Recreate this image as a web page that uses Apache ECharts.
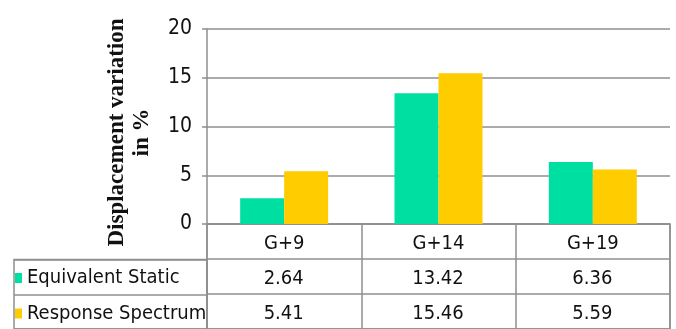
<!DOCTYPE html>
<html>
<head>
<meta charset="utf-8">
<script src="https://cdn.jsdelivr.net/npm/echarts@6/dist/echarts.min.js"></script>
<style>
  html, body { margin: 0; padding: 0; background: #fff; }
  #main { width: 676px; height: 329px; }
</style>
</head>
<body>
<div id="main"></div>
<script>
// 数据
var categories = ["G+9", "G+14", "G+19"];
var seriesNames = ["Equivalent Static", "Response Spectrum"];
var equivalentStatic = [2.64, 13.42, 6.36];
var responseSpectrum = [5.41, 15.46, 5.59];
var yMin = 0, yMax = 20, yStep = 5;
var tableRows = [equivalentStatic, responseSpectrum];

var lineColor = "#8f8f8f";
var textColor = "#111";
var tableFont = "'DejaVu Sans Condensed', sans-serif";

// 表格里的数值 -> 散点的标签 (y 是行中心)
var cellSeries = tableRows.map(function (row, r) {
  return {
    name: "cells" + r,
    type: "scatter",
    xAxisIndex: 1,
    yAxisIndex: 1,
    symbolSize: 1,
    itemStyle: { opacity: 0 },
    silent: true,
    label: {
      show: true,
      position: [0, 0],
      offset: [0, 3],
      align: "center",
      verticalAlign: "middle",
      opacity: 1,
      textBorderWidth: 0,
      formatter: function (p) { return p.value[2].toFixed(2); },
      fontFamily: tableFont,
      fontSize: 20,
      color: textColor
    },
    data: row.map(function (v, i) { return [categories[i], r + 1.5, v]; })
  };
});

var myChart = echarts.init(document.getElementById("main"));
var option = {
  animation: false,
  color: ["#00DFA2", "#FFCC00"],
  legend: {
    data: seriesNames,
    orient: "vertical",
    left: 15,
    top: 267,
    padding: 0,
    itemWidth: 7,
    itemHeight: 10,
    itemGap: 13.5,
    icon: "rect",
    textStyle: { fontFamily: tableFont, fontSize: 20, lineHeight: 22, color: textColor }
  },
  grid: [
    // 柱状图
    { left: 207, right: 6, top: 29, height: 195 },
    // 数据表
    { left: 207, right: 6, top: 224, height: 106.5, show: true, borderColor: lineColor, borderWidth: 1.5 },
    // 图例列
    { left: 14, width: 193, top: 259.5, height: 71, show: true, borderColor: lineColor, borderWidth: 1.5 }
  ],
  xAxis: [
    {
      type: "category",
      gridIndex: 0,
      data: categories,
      axisLine: { show: false },
      axisTick: { show: false },
      axisLabel: { margin: 10, fontFamily: tableFont, fontSize: 20, color: textColor }
    },
    {
      type: "category",
      gridIndex: 1,
      data: categories,
      axisLine: { show: false },
      axisTick: { show: false },
      axisLabel: { show: false },
      splitLine: { show: true, interval: 0, lineStyle: { color: lineColor, width: 1.5 } }
    },
    {
      type: "value",
      gridIndex: 2,
      show: false
    }
  ],
  yAxis: [
    {
      type: "value",
      gridIndex: 0,
      min: yMin,
      max: yMax,
      interval: yStep,
      name: "Displacement variation\nin %",
      nameLocation: "middle",
      nameRotate: 90,
      nameGap: 52,
      nameTextStyle: {
        fontFamily: "'Liberation Serif', 'DejaVu Serif', serif",
        fontWeight: "bold",
        fontSize: 23,
        lineHeight: 25,
        padding: [0, 12, 0, 0],
        color: textColor
      },
      axisLine: { show: true, lineStyle: { color: lineColor, width: 1.5 } },
      axisTick: { show: true, length: 5, lineStyle: { color: lineColor, width: 1.5 } },
      axisLabel: { margin: 15, fontFamily: tableFont, fontSize: 21, color: textColor },
      splitLine: { show: true, lineStyle: { color: lineColor, width: 1.5 } }
    },
    {
      type: "value",
      gridIndex: 1,
      min: 0,
      max: 3,
      interval: 1,
      inverse: true,
      axisLine: { show: false },
      axisTick: { show: false },
      axisLabel: { show: false },
      splitLine: { show: true, lineStyle: { color: lineColor, width: 1.5 } }
    },
    {
      type: "value",
      gridIndex: 2,
      min: 0,
      max: 2,
      interval: 1,
      inverse: true,
      axisLine: { show: false },
      axisTick: { show: false },
      axisLabel: { show: false },
      splitLine: { show: true, lineStyle: { color: lineColor, width: 1.5 } }
    }
  ],
  series: [
    {
      name: seriesNames[0],
      type: "bar",
      xAxisIndex: 0,
      yAxisIndex: 0,
      barWidth: 44,
      barGap: "0%",
      data: equivalentStatic
    },
    {
      name: seriesNames[1],
      type: "bar",
      xAxisIndex: 0,
      yAxisIndex: 0,
      barWidth: 44,
      barGap: "0%",
      data: responseSpectrum
    }
  ].concat(cellSeries)
};
myChart.setOption(option);
</script>
</body>
</html>
